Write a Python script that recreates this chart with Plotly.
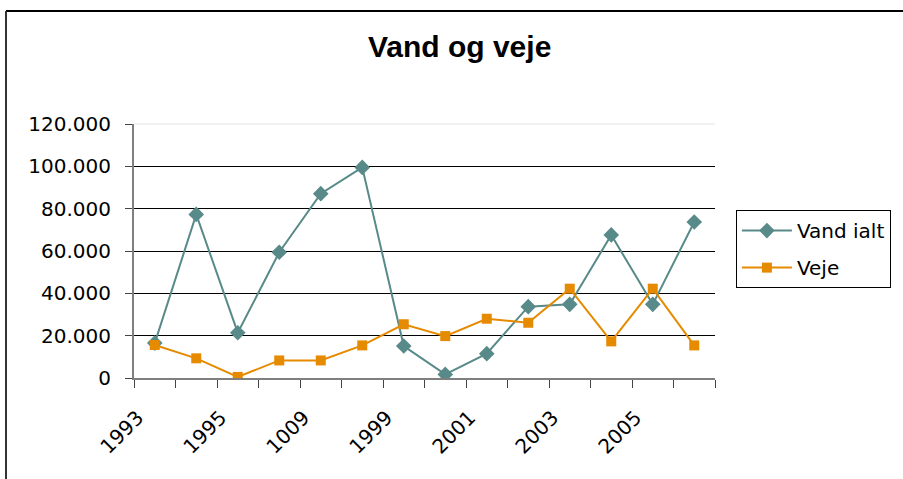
import plotly.graph_objects as go

years = ["1993", "1994", "1995", "1996", "1009", "1998", "1999",
         "2000", "2001", "2002", "2003", "2004", "2005", "2006"]
vand_ialt = [16.5, 77.3, 21.4, 59.4, 87.1, 99.5, 15.1,
             1.7, 11.5, 33.7, 34.8, 67.6, 34.8, 73.7]
veje = [15.6, 9.3, 0.5, 8.3, 8.3, 15.4, 25.4,
        19.8, 28.0, 26.1, 42.2, 17.3, 42.2, 15.4]
y_ticks = [0, 20, 40, 60, 80, 100, 120]
y_labels = ["0", "20.000", "40.000", "60.000", "80.000", "100.000", "120.000"]

FONT = "DejaVu Sans, sans-serif"
TITLE_FONT = "Liberation Sans, Arial, sans-serif"
TEAL = "#588a89"
ORANGE = "#e68a00"

x = list(range(len(years)))

fig = go.Figure()
fig.add_trace(go.Scatter(
    x=x, y=vand_ialt, name="Vand ialt", mode="lines+markers", legendgroup="a",
    line=dict(color=TEAL, width=2),
    marker=dict(symbol="diamond", size=12, color=TEAL),
))
fig.add_trace(go.Scatter(
    x=x, y=veje, name="Veje", mode="lines+markers", legendgroup="b",
    line=dict(color=ORANGE, width=2),
    marker=dict(symbol="square", size=10, color=ORANGE),
))

fig.update_layout(
    width=903, height=479,
    margin=dict(l=134, r=188, t=124, b=101),
    paper_bgcolor="white", plot_bgcolor="white",
    font=dict(family=FONT, size=20, color="black"),
    title=dict(text="<b>Vand og veje</b>", x=0.509, xanchor="center",
               y=0.902, yanchor="middle",
               font=dict(family=TITLE_FONT, size=30, color="black")),
    showlegend=True,
    legend=dict(x=1.036, xanchor="left", y=0.661, yanchor="top",
                bordercolor="black", borderwidth=1, bgcolor="white",
                font=dict(family=FONT, size=20), itemwidth=50,
                traceorder="grouped", tracegroupgap=8),
    xaxis=dict(
        range=[-0.5, len(years) - 0.5],
        tickmode="array", tickvals=x[::2], ticktext=years[::2],
        tickangle=-45, ticks="", showgrid=False, zeroline=False,
        showline=True, linecolor="#7f7f7f", linewidth=2,
        ticklabelstandoff=18, ticklabelshift=-17,
        tickfont=dict(family=FONT, size=20),
        minor=dict(tickmode="linear", tick0=-0.5, dtick=1, ticks="outside",
                   ticklen=8, tickcolor="#444", tickwidth=1, showgrid=False),
    ),
    yaxis=dict(
        range=[0, 120], tickmode="array", tickvals=y_ticks, ticktext=y_labels,
        ticks="outside", ticklen=7, tickcolor="#444", tickwidth=1,
        showgrid=True, gridcolor="black", gridwidth=1, zeroline=False,
        showline=True, linecolor="#7f7f7f", linewidth=2,
        ticklabelstandoff=10,
        tickfont=dict(family=FONT, size=20),
    ),
    shapes=[
        dict(type="line", xref="x domain", yref="y domain", x0=0, x1=1, y0=1, y1=1,
             line=dict(color="#eeeeee", width=1.5), layer="above"),
        dict(type="line", xref="paper", yref="paper", x0=-0.2203, x1=1.5,
             y0=1.4449, y1=1.4449, line=dict(color="black", width=2)),
        dict(type="line", xref="paper", yref="paper", x0=-0.2203, x1=-0.2203,
             y0=1.4449, y1=-0.6, line=dict(color="#333333", width=2)),
    ],
)

fig.write_html("out.html",
               config={"displayModeBar": False},
               post_script="document.body.style.margin='0';document.body.style.overflow='hidden';")
